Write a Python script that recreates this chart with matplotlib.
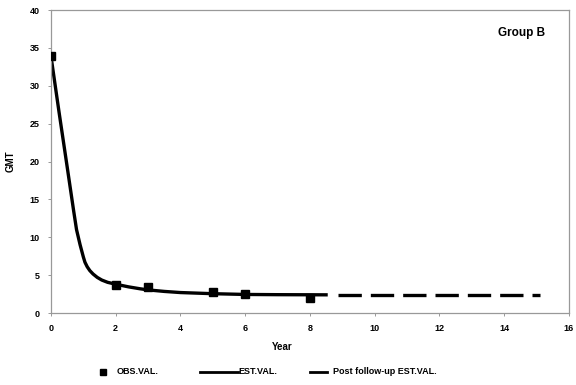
import matplotlib.pyplot as plt
from matplotlib.lines import Line2D

# observed GMT values
obs_year = [0, 2, 3, 5, 6, 8]
obs_gmt = [33.9, 3.7, 3.4, 2.8, 2.5, 1.95]

# estimated curve over the follow-up period
est_year = [0, 0.25, 0.5, 0.7, 0.79, 0.9, 1.0, 1.05, 1.12, 1.2, 1.3, 1.43,
            1.57, 1.75, 2.0, 2.4, 2.75, 3.0, 3.5, 4.0, 5.0, 6.0, 7.0, 8.5]
est_gmt = [33.9, 26.5, 19.3, 13.5, 11.0, 9.0, 7.4, 6.7, 6.1, 5.6, 5.15, 4.7,
           4.35, 4.05, 3.8, 3.45, 3.2, 3.05, 2.85, 2.7, 2.55, 2.45, 2.42, 2.4]

# extrapolated curve after follow-up
post_year = [8.88, 15.12]
post_gmt = [2.4, 2.4]

xticks = list(range(0, 17, 2))
yticks = list(range(0, 41, 5))

plt.rcParams["font.family"] = ["Liberation Sans", "DejaVu Sans"]
plt.rcParams["font.weight"] = "bold"

fig = plt.figure(figsize=(5.76, 3.85), dpi=100)
ax = fig.add_axes([0.0885, 0.187, 0.899, 0.787])

ax.plot(est_year, est_gmt, color="black", lw=2.4, solid_joinstyle="round", zorder=2)
ax.plot(post_year, post_gmt, color="black", lw=2.4, dashes=(7, 2.7), zorder=2)
ax.plot(obs_year, obs_gmt, ls="none", marker="s", ms=5.5, color="black", zorder=3)

ax.set_xlim(0, 16)
ax.set_ylim(0, 40)
ax.set_xticks(xticks)
ax.set_yticks(yticks)
ax.tick_params(labelsize=6.5, length=2, width=0.6, color="#888888", pad=6)
for s in ax.spines.values():
    s.set_color("#999999")
    s.set_linewidth(0.9)

ax.set_xlabel("Year", fontsize=7, fontweight="bold", labelpad=6)
ax.set_ylabel("GMT", fontsize=7, fontweight="bold", labelpad=10)
ax.xaxis.set_label_coords(0.447, -0.095)

ax.text(0.955, 0.925, "Group B", transform=ax.transAxes, ha="right", va="center",
        fontsize=8.5, fontweight="bold")

# legend row under the axis
ly = 1 - 372 / 385
fig.add_artist(Line2D([103 / 576], [ly], marker="s", ms=4.5, color="black",
                      transform=fig.transFigure))
fig.text(117 / 576, ly, "OBS.VAL.", fontsize=6.5, va="center", fontweight="bold")
fig.add_artist(Line2D([200 / 576, 238 / 576], [ly, ly], lw=2, color="black",
                      transform=fig.transFigure))
fig.text(238 / 576, ly, "EST.VAL.", fontsize=6.5, va="center", fontweight="bold")
fig.add_artist(Line2D([310 / 576, 327 / 576], [ly, ly], lw=2, color="black",
                      transform=fig.transFigure))
fig.text(333 / 576, ly, "Post follow-up EST.VAL.", fontsize=6.5, va="center",
         fontweight="bold")

fig.savefig("out.png", dpi=100)
